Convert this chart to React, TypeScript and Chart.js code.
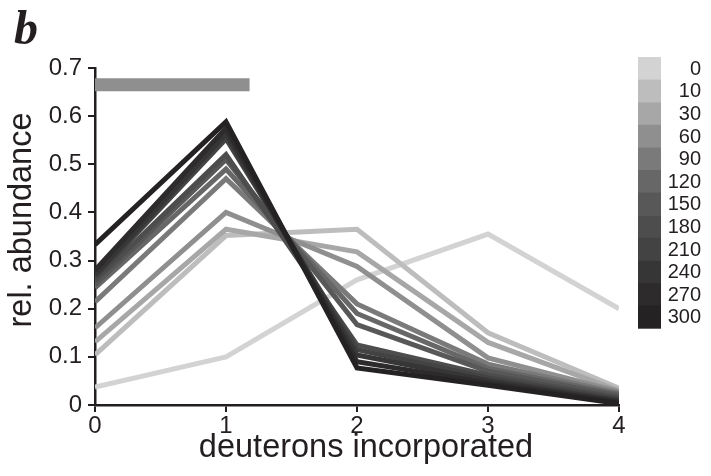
import React, { useEffect, useRef } from 'react';
import { Chart, registerables } from 'chart.js';

Chart.register(...registerables);

// Number of deuterons incorporated (x positions)
const deuterons = [0, 1, 2, 3, 4];

// Labelling time points (legend entries), light to dark
const timeLabels = ['0', '10', '30', '60', '90', '120', '150', '180', '210', '240', '270', '300'];
const shades = [
  '#d3d3d3', '#bdbdbd', '#a7a7a7', '#8f8f8f', '#7a7a7a', '#676767',
  '#585858', '#4d4d4d', '#434343', '#373636', '#2d2b2b', '#242222',
];

// Relative abundance for each time point, one value per deuteron count
const t0 = [0.037, 0.10, 0.26, 0.355, 0.20];
const t10 = [0.104, 0.352, 0.365, 0.15, 0.035];
const t30 = [0.131, 0.365, 0.318, 0.13, 0.03];
const t60 = [0.16, 0.40, 0.288, 0.098, 0.028];
const t90 = [0.214, 0.47, 0.21, 0.085, 0.025];
const t120 = [0.243, 0.49, 0.19, 0.076, 0.022];
const t150 = [0.25, 0.51, 0.167, 0.07, 0.019];
const t180 = [0.258, 0.52, 0.125, 0.062, 0.015];
const t210 = [0.265, 0.553, 0.115, 0.056, 0.012];
const t240 = [0.27, 0.563, 0.104, 0.051, 0.009];
const t270 = [0.28, 0.575, 0.09, 0.046, 0.006];
const t300 = [0.333, 0.588, 0.077, 0.041, 0.003];
const seriesValues = [t0, t10, t30, t60, t90, t120, t150, t180, t210, t240, t270, t300];

// Grey marker bar along the top of the plot
const markerStart = 0;
const markerEnd = 1.18;
const markerLevel = 0.665;

const yTicks = [0, 0.1, 0.2, 0.3, 0.4, 0.5, 0.6, 0.7];

const SANS = "'Liberation Sans', Arial, Helvetica, sans-serif";

const annotations = {
  id: 'annotations',
  afterDraw(chart: any) {
    const { ctx, chartArea } = chart;
    ctx.save();
    // panel letter
    ctx.fillStyle = '#231f20';
    ctx.font = "italic bold 48px 'Liberation Serif', 'DejaVu Serif', serif";
    ctx.textAlign = 'left';
    ctx.textBaseline = 'alphabetic';
    ctx.fillText('b', 14, 44);

    // axis titles
    ctx.font = `32.5px ${SANS}`;
    ctx.textAlign = 'center';
    ctx.textBaseline = 'middle';
    ctx.fillText('deuterons incorporated', chartArea.left + 271, 448);
    ctx.save();
    ctx.translate(22, chartArea.top + 152);
    ctx.rotate(-Math.PI / 2);
    ctx.fillText('rel. abundance', 0, 0);
    ctx.restore();

    // legend: stacked swatches with labels
    const boxX = 638;
    const boxW = 23;
    const boxTop = 57;
    const boxH = 22.6;
    ctx.font = `20px ${SANS}`;
    ctx.textAlign = 'right';
    ctx.textBaseline = 'middle';
    timeLabels.forEach((lbl, i) => {
      ctx.fillStyle = shades[i];
      ctx.fillRect(boxX, boxTop + i * boxH, boxW, boxH + 0.5);
      ctx.fillStyle = '#231f20';
      ctx.fillText(lbl, 701, boxTop + i * boxH + boxH / 2 + 1);
    });
    ctx.restore();
  },
};

export default function App() {
  const canvasRef = useRef<HTMLCanvasElement | null>(null);

  useEffect(() => {
    const canvas = canvasRef.current;
    if (!canvas) return;

    const datasets: any[] = seriesValues.map((vals, i) => ({
      label: timeLabels[i],
      data: deuterons.map((d, j) => ({ x: d, y: vals[j] })),
      borderColor: shades[i],
      backgroundColor: shades[i],
      borderWidth: 5,
      borderJoinStyle: 'miter',
      borderCapStyle: 'butt',
      pointRadius: 0,
      tension: 0,
      order: seriesValues.length - i,
    }));
    datasets.push({
      label: 'marker',
      data: [
        { x: markerStart, y: markerLevel },
        { x: markerEnd, y: markerLevel },
      ],
      borderColor: '#8f8f8f',
      borderWidth: 13,
      borderCapStyle: 'butt',
      pointRadius: 0,
      order: 20,
    });

    const chart = new Chart(canvas, {
      type: 'line',
      data: { datasets },
      options: {
        responsive: false,
        animation: false,
        devicePixelRatio: 1,
        layout: { padding: { left: 0, top: 68, right: 92, bottom: 0 } },
        plugins: {
          legend: { display: false },
          tooltip: { enabled: false },
        },
        scales: {
          x: {
            type: 'linear',
            min: 0,
            max: 4,
            afterBuildTicks: (s: any) => {
              s.ticks = deuterons.map((v) => ({ value: v }));
            },
            afterFit: (s: any) => {
              s.height = 71;
            },
            ticks: {
              color: '#231f20',
              font: { family: SANS, size: 24 },
              padding: 0,
              maxRotation: 0,
            },
            grid: {
              drawOnChartArea: false,
              drawTicks: true,
              tickLength: 7,
              color: '#231f20',
              lineWidth: 2,
            },
            border: { color: '#231f20', width: 2.5 },
          },
          y: {
            type: 'linear',
            min: 0,
            max: 0.7,
            afterBuildTicks: (s: any) => {
              s.ticks = yTicks.map((v) => ({ value: v }));
            },
            afterFit: (s: any) => {
              s.width = 95;
            },
            ticks: {
              color: '#231f20',
              font: { family: SANS, size: 24 },
              padding: 6,
              callback: (v: any) => (Number(v) === 0 ? '0' : Number(v).toFixed(1)),
            },
            grid: {
              drawOnChartArea: false,
              drawTicks: true,
              tickLength: 7,
              color: '#231f20',
              lineWidth: 2,
            },
            border: { color: '#231f20', width: 2.5 },
          },
        },
      },
      plugins: [annotations],
    });

    return () => chart.destroy();
  }, []);

  return (
    <div style={{ position: 'absolute', left: 0, top: 0, width: 711, height: 476, background: '#fff' }}>
      <canvas ref={canvasRef} width={711} height={476} />
    </div>
  );
}
